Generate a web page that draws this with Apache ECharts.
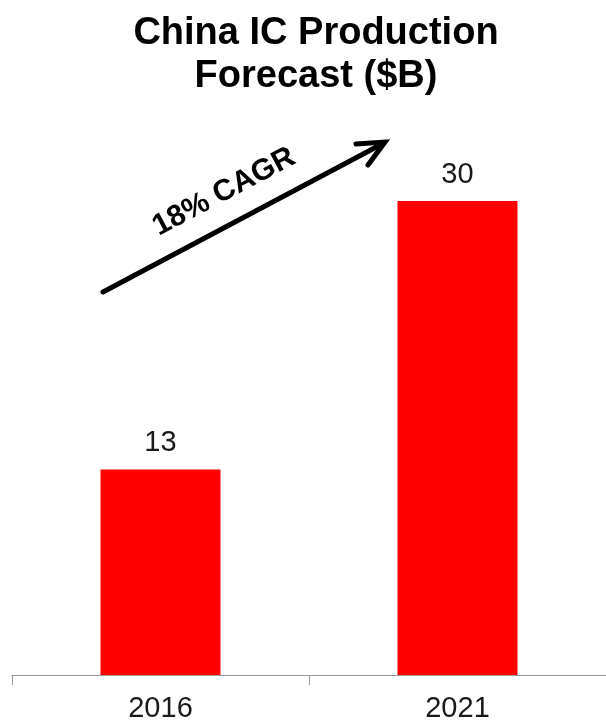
<!DOCTYPE html>
<html><head><meta charset="utf-8">
<script src="https://cdn.jsdelivr.net/npm/echarts@6/dist/echarts.min.js"></script>
<style>html,body{margin:0;padding:0;background:#fff}#c{width:606px;height:727px}</style>
</head><body><div id="c"></div>
<script>
const titleText = 'China IC Production\nForecast ($B)';
const categories = ['2016', '2021'];
const values = [13, 30];
const annotationText = '18% CAGR';

const chart = echarts.init(document.getElementById('c'), null, {renderer: 'canvas'});
const FONT = "'Liberation Sans', Arial, sans-serif";
chart.setOption({
  animation: false,
  backgroundColor: '#ffffff',
  title: {
    text: titleText,
    left: 311, top: 7, textAlign: 'center',
    textStyle: {fontFamily: FONT, fontSize: 38, fontWeight: 'bold', color: '#000', lineHeight: 43}
  },
  grid: {left: 12, width: 600, top: 43, bottom: 52, containLabel: false},
  xAxis: {
    type: 'category', data: categories,
    axisLine: {lineStyle: {color: '#999999', width: 1}},
    axisTick: {show: true, length: 10, alignWithLabel: false, lineStyle: {color: '#999999'}},
    axisLabel: {fontFamily: FONT, fontSize: 29, color: '#1a1a1a', margin: 19}
  },
  yAxis: {type: 'value', min: 0, max: 40, show: false, splitLine: {show: false}},
  series: [{
    type: 'bar', data: values, barWidth: 120,
    itemStyle: {color: '#ff0000'},
    label: {show: true, position: 'top', distance: 12, fontFamily: FONT, fontSize: 29, color: '#1a1a1a'}
  }],
  graphic: [
    {type: 'line', shape: {x1: 103, y1: 292, x2: 382, y2: 144},
     style: {stroke: '#000', lineWidth: 5, lineCap: 'round'}},
    {type: 'polyline', shape: {points: [[356, 144], [385, 142], [368, 165]]},
     style: {stroke: '#000', lineWidth: 5, lineCap: 'round', lineJoin: 'miter', fill: null}},
    {type: 'text', x: 224, y: 192, rotation: 28 * Math.PI / 180,
     style: {text: annotationText, align: 'center', verticalAlign: 'middle',
             font: "bold 30px 'Liberation Sans', Arial, sans-serif", fill: '#000'}}
  ]
});
</script></body></html>
